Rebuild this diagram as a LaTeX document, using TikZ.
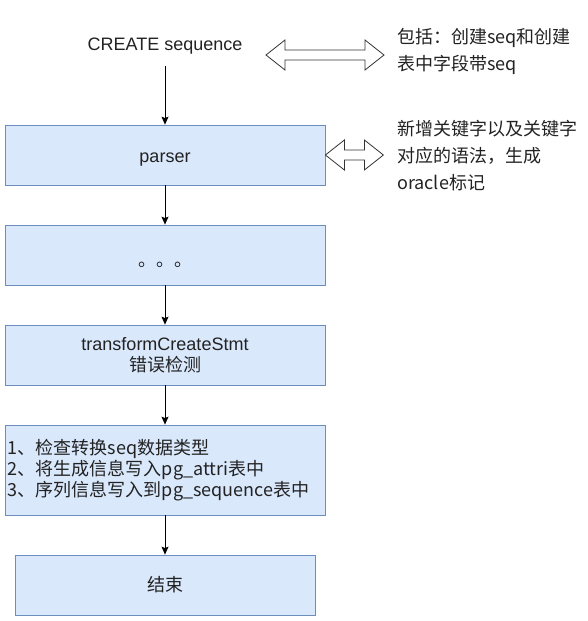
\documentclass[tikz,border=0pt]{standalone}
\usepackage{fontspec}
\setmainfont{Liberation Sans}
\newfontfamily\cjk{Noto Sans CJK SC}
\usetikzlibrary{arrows.meta,shapes,positioning}
\definecolor{dfbluefill}{RGB}{218,232,252}
\definecolor{dfblueline}{RGB}{108,142,191}
\definecolor{dftext}{RGB}{34,34,34}
\tikzstyle{process} = [rectangle, minimum width=320pt, minimum height=60pt, text centered, draw=dfblueline, fill=dfbluefill, line width=0.8pt, text=dftext, font=\fontsize{18}{21}\selectfont]
\tikzstyle{cjkfont} = [font=\cjk\fontsize{18}{21}\selectfont]
\tikzstyle{note} = [text=dftext, align=left, inner sep=0pt, anchor=west, font=\cjk\fontsize{18}{27}\selectfont]
\tikzstyle{both} = [draw=black!80, fill=white, line width=0.8pt, line join=miter]
\tikzstyle{arrow} = [-{Stealth[length=8pt,width=7pt,inset=1.5pt]}, line width=0.8pt]

\begin{document}
\begin{tikzpicture}[x=1pt, y=1pt]
\useasboundingbox (0,0) rectangle (588,-621);
\node (create) [text=dftext, minimum height=40pt, font=\fontsize{18}{21}\selectfont] at (165,-46) {CREATE sequence};
\node (parser) [process, text height=12pt, text depth=4pt] at (165,-155) {\raisebox{-3pt}{parser}};
\node (dots) [process, cjkfont, below=39.2pt of parser, text height=12pt, text depth=4pt] {\raisebox{-7pt}{。。。}};
\node (check) [process, below=39.2pt of dots, align=center] {transformCreateStmt\\{\cjk\fontsize{18}{21}\selectfont 错误检测}};
\node (write) [process, cjkfont, below=39.2pt of check, minimum height=90pt, text width=314pt, inner xsep=3pt, align=left] {1、检查转换seq数据类型\\2、将生成信息写入pg\_attri表中\\3、序列信息写入到pg\_sequence表中};
\node (finish) [process, cjkfont, below=39.2pt of write, minimum width=300pt] {结束};
% notes on the right
\node (note1) [note] at (397,-51) {包括：创建seq和创建\\表中字段带seq};
\node (note2) [note] at (397,-156) {新增关键字以及关键字\\对应的语法，生成\\oracle标记};
\coordinate (dbl1) at (266,-55);
\coordinate (dbl2) at (parser.east |- 0,-155);
\draw[both] (dbl1) -- ++(19,15) -- ++(0,-10) -- ++(80,0) -- ++(0,10) -- ++(19,-15)
  -- ++(-19,-15) -- ++(0,10) -- ++(-80,0) -- ++(0,-10) -- cycle;
\draw[both] (dbl2) -- ++(19,15) -- ++(0,-10) -- ++(20,0) -- ++(0,10) -- ++(19,-15)
  -- ++(-19,-15) -- ++(0,10) -- ++(-20,0) -- ++(0,-10) -- cycle;
\draw[arrow] (create) -- (parser);
\draw[arrow] (parser) -- (dots);
\draw[arrow] (dots) -- (check);
\draw[arrow] (check) -- (write);
\draw[arrow] (write) -- (finish);
\end{tikzpicture}
\end{document}
